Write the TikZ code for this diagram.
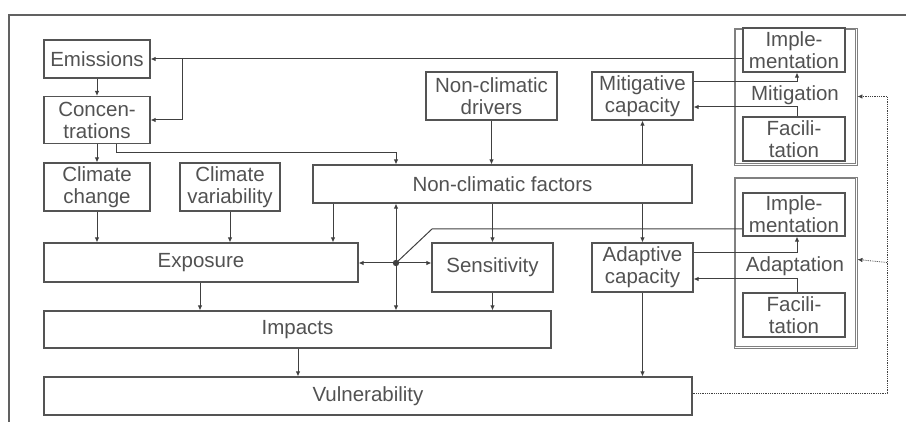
\documentclass[tikz,border=0pt]{standalone}
\usepackage{fontspec}
\setmainfont{Liberation Sans}
\usetikzlibrary{arrows.meta}
\definecolor{linegray}{rgb}{0.25,0.25,0.25}
\definecolor{boxgray}{rgb}{0.33,0.33,0.33}
\definecolor{txtgray}{rgb}{0.32,0.32,0.32}
\definecolor{framegray}{rgb}{0.38,0.38,0.38}
\definecolor{groupgray}{rgb}{0.5,0.5,0.5}
\tikzset{
    box/.style={draw=boxgray, line width=1.1pt, text=txtgray, align=center, inner sep=0pt,
        font=\fontsize{20.5}{22}\selectfont},
    groupbox/.style={draw=groupgray, line width=0.9pt, inner sep=0pt},
    groupinner/.style={draw=groupgray, line width=0.9pt},
    grouplabel/.style={text=txtgray, font=\fontsize{20.5}{22}\selectfont, inner sep=0pt},
    arr/.style={draw=linegray, line width=1pt, -{Latex[length=5pt,width=4.5pt]}},
    biarr/.style={draw=linegray, line width=1pt, {Latex[length=5pt,width=4.5pt]}-{Latex[length=5pt,width=4.5pt]}},
    plain/.style={draw=linegray, line width=1pt},
    fback/.style={draw=linegray, line width=0.8pt, densely dotted},
}
\begin{document}
\begin{tikzpicture}[x=1pt,y=-1pt]
    \useasboundingbox (0,0) rectangle (906,422);
    \draw[line width=2.4pt, framegray] (906,15) -- (9,15) -- (9,422);
    % left column
    \node[box, minimum width=106pt, minimum height=38pt] (emis) at (97,59) {Emissions};
    \node[box, minimum width=106pt, minimum height=47pt] (conc) at (97,120) {Concen-\\trations};
    \node[box, minimum width=106pt, minimum height=48pt] (cchange) at (97,187) {Climate\\change};
    \node[box, minimum width=100pt, minimum height=48pt] (cvar) at (230,187) {Climate\\variability};
    % middle
    \node[box, minimum width=131pt, minimum height=48pt] (ncdrv) at (491.5,96) {Non-climatic\\drivers};
    \node[box, minimum width=379pt, minimum height=38pt] (ncf) at (502.5,184) {Non-climatic factors};
    \node[box, minimum width=314pt, minimum height=39pt] (expo) at (201,262.5) {Exposure};
    \node[box, minimum width=121pt, minimum height=49pt] (sens) at (492.5,267.5) {Sensitivity};
    \node[box, minimum width=507pt, minimum height=37pt] (imp) at (297.5,329.5) {Impacts};
    \node[box, minimum width=648pt, minimum height=38pt] (vul) at (368,396) {Vulnerability};
    % capacities
    \node[box, minimum width=101pt, minimum height=48pt] (mitc) at (642.5,96) {Mitigative\\capacity};
    \node[box, minimum width=101pt, minimum height=49pt] (adc) at (642.5,267.5) {Adaptive\\capacity};
    % mitigation / adaptation groups
    \node[groupbox, minimum width=123pt, minimum height=137pt] (mito) at (795.5,96.5) {};
    \node[groupbox, minimum width=123pt, minimum height=171pt] (adpo) at (795.5,262.5) {};
    \draw[groupinner] ([shift={(2.2pt,-2.2pt)}]mito.north west) rectangle ([shift={(-2.2pt,2.2pt)}]mito.south east);
    \draw[groupinner] ([shift={(2.2pt,-2.2pt)}]adpo.north west) rectangle ([shift={(-2.2pt,2.2pt)}]adpo.south east);
    \node[box, fill=white, minimum width=102pt, minimum height=44pt] (implm) at (794,50) {Imple-\\mentation};
    \node[box, fill=white, minimum width=102pt, minimum height=44pt] (facm) at (794,139) {Facili-\\tation};
    \node[grouplabel] (mitl) at (795,95) {Mitigation};
    \node[box, fill=white, minimum width=102pt, minimum height=43pt] (impla) at (794,214.5) {Imple-\\mentation};
    \node[box, fill=white, minimum width=102pt, minimum height=44pt] (faca) at (794,315) {Facili-\\tation};
    \node[grouplabel] (adpl) at (795,266) {Adaptation};
    \coordinate (split) at (182,59);
    \coordinate (dot) at (396,263);
    \coordinate (fbtop) at (887,96.5);
    % connectors
    \draw[arr] (implm.west |- emis.east) -- (emis.east);
    \draw[arr] (split) |- (conc.east);
    \draw[arr] (emis) -- (conc);
    \draw[arr] (conc) -- (cchange);
    \draw[arr] ([xshift=19pt]conc.south) -- ++(0,8) -| (ncf.north -| dot);
    \draw[arr] (ncdrv) -- (ncf.north -| ncdrv);
    \draw[arr] (cchange) -- (expo.north -| cchange);
    \draw[arr] (cvar) -- (expo.north -| cvar);
    \draw[arr] (ncf.south -| 333,0) -- (expo.north -| 333,0);
    \draw[biarr] (ncf.south -| dot) -- (imp.north -| dot);
    \fill[linegray] (dot) circle (3.2pt);
    \draw[arr] (dot) -- (expo.east |- dot);
    \draw[arr] (dot) -- (sens.west |- dot);
    \draw[plain] (dot) -- ++(36,-34) -- (impla.west |- 0,229);
    \draw[arr] (ncf.south -| sens) -- (sens);
    \draw[arr] (sens) -- (imp.north -| sens);
    \draw[arr] (expo.south -| 200,0) -- (imp.north -| 200,0);
    \draw[arr] (imp.south -| 298,0) -- (vul.north -| 298,0);
    \draw[arr] (ncf.north -| mitc) -- (mitc);
    \draw[arr] (ncf.south -| adc) -- (adc);
    \draw[arr] (adc) -- (vul.north -| adc);
    \draw[arr] ([yshift=14pt]mitc.east) -| ([xshift=3pt]implm.south);
    \draw[arr] ([xshift=3pt]facm.north) |- ([yshift=-11pt]mitc.east);
    \draw[arr] ([yshift=14.5pt]adc.east) -| ([xshift=3pt]impla.south);
    \draw[arr] ([xshift=3pt]faca.north) |- ([yshift=-11.5pt]adc.east);
    % feedback
    \draw[fback] ([yshift=3pt]vul.east) -| (fbtop);
    \draw[fback, -{Latex[length=5pt,width=4.5pt]}] (fbtop) -- (mito.east);
    \draw[fback, -{Latex[length=5pt,width=4.5pt]}] (adpo.east -| fbtop) -- ([yshift=3pt]adpo.east);
\end{tikzpicture}
\end{document}
